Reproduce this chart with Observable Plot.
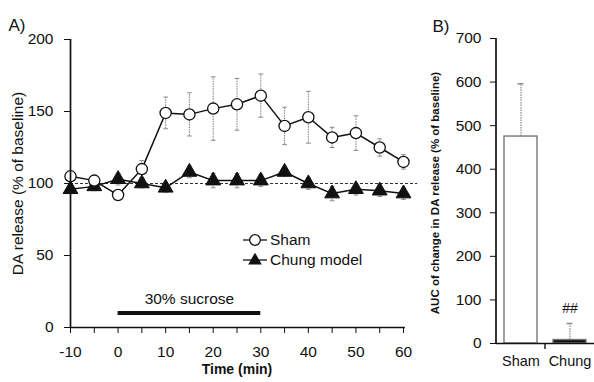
<!DOCTYPE html>
<html><head><meta charset="utf-8">
<script src="https://cdn.jsdelivr.net/npm/d3@7"></script>
<script src="https://cdn.jsdelivr.net/npm/@observablehq/plot@0.6"></script>
<style>
body{margin:0;background:#fff;}
#wrap{position:relative;width:594px;height:382px;font-family:"Liberation Sans",Arial,sans-serif;color:#111;overflow:hidden;}
.panel{position:absolute;top:0;}
#legend{position:absolute;left:242px;top:230px;font-size:15.5px;line-height:20px;}
#legend .row{display:flex;align-items:center;height:20px;}
#legend svg{display:block;margin-right:2px;}
</style></head><body><div id="wrap"></div>
<script>
// ---- Data ----
const times      = [-10, -5, 0, 5, 10, 15, 20, 25, 30, 35, 40, 45, 50, 55, 60];
const shamMean   = [105, 102, 92, 110, 149, 148, 152, 155, 161, 140, 146, 132, 135, 125, 115];
const shamErr    = [3, 3, 3, 6, 11, 15, 22, 18, 15, 13, 18, 7, 12, 6, 5];
const chungMean  = [96, 98, 103, 100, 97, 108, 102, 102, 102, 108, 100, 93, 96, 95, 93];
const chungErr   = [3, 3, 4, 3, 3, 4, 5, 5, 4, 3, 4, 5, 4, 4, 4];
const xTicksA    = [-10, -5, 0, 5, 10, 15, 20, 25, 30, 35, 40, 45, 50, 55, 60];
const yTicksA    = [0, 50, 100, 150, 200];
const baseline   = [100];
const stimulus   = [{start: 0, end: 30, level: 10, label: "30% sucrose"}];
const seriesNames = ["Sham", "Chung model"];

const groups     = ["Sham", "Chung"];
const aucMean    = [475, 8];
const aucErr     = [121, 38];
const aucSig     = ["", "##"];
const yTicksB    = [0, 100, 200, 300, 400, 500, 600, 700];

const font = "Liberation Sans, Arial, sans-serif";
const ink = "#111";
const grey = "#8a8a8a";

const shamRows = times.map((t, i) => ({t, m: shamMean[i], e: shamErr[i]}));
const chungRows = times.map((t, i) => ({t, m: chungMean[i], e: chungErr[i]}));

function errMarks(rows) {
  return [
    Plot.ruleX(rows, {x: "t", y1: d => d.m - d.e, y2: d => d.m + d.e, stroke: grey, strokeWidth: 1.1, strokeDasharray: "1.5,1"}),
    Plot.link(rows, {x1: d => d.t - 0.5, x2: d => d.t + 0.5, y1: d => d.m + d.e, y2: d => d.m + d.e, stroke: grey, strokeWidth: 1}),
    Plot.link(rows, {x1: d => d.t - 0.5, x2: d => d.t + 0.5, y1: d => d.m - d.e, y2: d => d.m - d.e, stroke: grey, strokeWidth: 1})
  ];
}

const A = Plot.plot({
  width: 430, height: 382,
  marginLeft: 70, marginRight: 27, marginTop: 39, marginBottom: 55,
  style: {fontFamily: font, fontSize: "15px", color: ink, background: "transparent", overflow: "visible"},
  x: {domain: [-10, 60]},
  y: {domain: [0, 200]},
  marks: [
    Plot.ruleY(baseline, {x1: -10, x2: 63, stroke: "#333", strokeWidth: 1.2, strokeDasharray: "3,2"}),
    ...errMarks(chungRows),
    ...errMarks(shamRows),
    Plot.line(chungRows, {x: "t", y: "m", stroke: ink, strokeWidth: 1.5}),
    Plot.dot(chungRows, {x: "t", y: "m", symbol: "triangle", r: 5.5, fill: ink, stroke: ink, strokeWidth: 1}),
    Plot.line(shamRows, {x: "t", y: "m", stroke: ink, strokeWidth: 1.5}),
    Plot.dot(shamRows, {x: "t", y: "m", r: 5.6, fill: "white", stroke: ink, strokeWidth: 1.3}),
    Plot.ruleY(stimulus, {x1: "start", x2: "end", y: "level", stroke: ink, strokeWidth: 4}),
    Plot.text(stimulus, {x: d => (d.start + d.end) / 2, y: "level", text: "label", dy: -14, fontSize: 15.5}),
    Plot.axisY({ticks: yTicksA, tickSize: 6, tickPadding: 11, label: null, fontSize: 15.5}),
    Plot.axisX({ticks: xTicksA, tickFormat: d => (d % 10 === 0 ? String(d) : ""), tickSize: 6, tickPadding: 12, label: null, fontSize: 15.5}),
    Plot.ruleX([-10], {y1: 0, y2: 200, stroke: ink, strokeWidth: 1.7}),
    Plot.ruleY([0], {x1: -10, x2: 60.4, stroke: ink, strokeWidth: 1.7}),
    Plot.text(["DA release (% of baseline)"], {frameAnchor: "left", textAnchor: "middle", rotate: -90, dx: -52, fontSize: 15.5}),
    Plot.text(["Time (min)"], {frameAnchor: "bottom", dy: 46, fontSize: 14, fontWeight: "bold"}),
    Plot.text(["A)"], {frameAnchor: "top-left", dx: -62, dy: -21, textAnchor: "start", fontSize: 17})
  ]
});

const bRows = groups.map((g, i) => ({g, v: aucMean[i], e: aucErr[i], s: aucSig[i]}));

const B = Plot.plot({
  width: 164, height: 382,
  marginLeft: 66, marginRight: 0, marginTop: 38, marginBottom: 39,
  style: {fontFamily: font, fontSize: "15px", color: ink, background: "transparent", overflow: "visible"},
  x: {domain: groups, paddingInner: 0.327, paddingOuter: 0.163},
  y: {domain: [0, 700]},
  marks: [
    Plot.ruleX(bRows, {x: "g", y1: "v", y2: d => d.v + d.e, stroke: grey, strokeWidth: 1.2, strokeDasharray: "1.5,1"}),
    Plot.tickY(bRows, {x: "g", y: d => d.v + d.e, inset: 13.5, stroke: grey, strokeWidth: 1.5}),
    Plot.barY(bRows, {x: "g", y: "v", fill: d => (d.g === "Sham" ? "white" : ink), stroke: "#777", strokeWidth: 1.4}),
    Plot.text(bRows, {x: "g", y: d => d.v + d.e, text: "s", dy: -15, fontSize: 14}),
    Plot.axisY({ticks: yTicksB, tickSize: 6, tickPadding: 9, label: null, fontSize: 15.5}),
    Plot.axisX({tickSize: 0, tickPadding: 12, label: null, fontSize: 14.5}),
    Plot.ruleY([0], {stroke: ink, strokeWidth: 1.7}),
    Plot.text(["AUC of change in DA release (% of baseline)"], {frameAnchor: "left", textAnchor: "middle", rotate: -90, dx: -61, dy: 2, fontSize: 11.5, fontWeight: "bold"}),
    Plot.text(["B)"], {frameAnchor: "top-left", dx: -64, dy: -19, textAnchor: "start", fontSize: 17})
  ]
});

const wrap = document.getElementById("wrap");
A.classList.add("panel"); A.style.left = "0px";
B.classList.add("panel"); B.style.left = "430px";
wrap.appendChild(A);
wrap.appendChild(B);

// left axis line and category-boundary tick of panel B, derived from its scales
const xs = B.scale("x");
const yB = B.scale("y");
d3.select(B).append("line")
  .attr("x1", xs.range[0]).attr("x2", xs.range[0])
  .attr("y1", yB.apply(0)).attr("y2", yB.apply(700))
  .attr("stroke", ink).attr("stroke-width", 1.7);
const between = xs.apply(groups[1]) - (xs.step - xs.bandwidth) / 2;
d3.select(B).append("line")
  .attr("x1", between).attr("x2", between)
  .attr("y1", yB.apply(0)).attr("y2", yB.apply(0) + 6)
  .attr("stroke", ink).attr("stroke-width", 1.4);

// legend
const legend = d3.select(wrap).append("div").attr("id", "legend");
seriesNames.forEach((name, i) => {
  const row = legend.append("div").attr("class", "row");
  const svg = row.append("svg").attr("width", 26).attr("height", 14);
  svg.append("line").attr("x1", 1).attr("x2", 25).attr("y1", 7).attr("y2", 7).attr("stroke", ink).attr("stroke-width", 1.3);
  if (i === 0) {
    svg.append("circle").attr("cx", 13).attr("cy", 7).attr("r", 5.3).attr("fill", "white").attr("stroke", ink).attr("stroke-width", 1.3);
  } else {
    svg.append("path").attr("d", d3.symbol(d3.symbolTriangle, 80)()).attr("transform", "translate(13,7.5)").attr("fill", ink);
  }
  row.append("span").text(name);
});
</script>
</body></html>
